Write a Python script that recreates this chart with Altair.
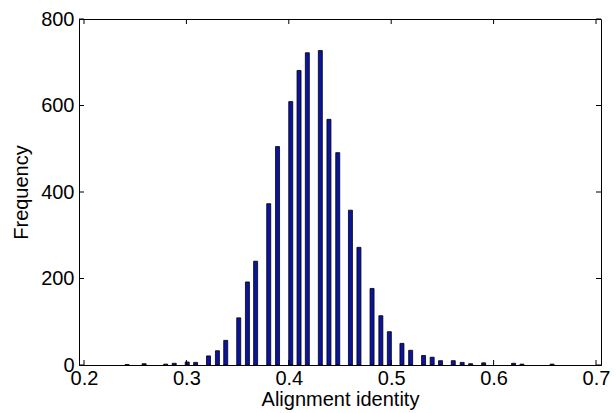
import altair as alt
import pandas as pd

# Histogram bar centers (alignment identity) and counts
bin_centers = [0.2421, 0.2587, 0.2798, 0.2881, 0.3008, 0.3090, 0.3216, 0.3303,
               0.3384, 0.3511, 0.3596, 0.3676, 0.3804, 0.3890, 0.4019, 0.4100,
               0.4181, 0.4308, 0.4392, 0.4478, 0.4602, 0.4685, 0.4813, 0.4899,
               0.4982, 0.5105, 0.5190, 0.5316, 0.5400, 0.5482, 0.5606, 0.5693,
               0.5776, 0.5903, 0.6195, 0.6277, 0.6571]
counts = [1, 3, 2, 4, 7, 6, 21, 33,
          57, 109, 192, 240, 373, 505, 609, 681,
          722, 727, 568, 491, 358, 272, 177, 114,
          77, 50, 34, 22, 18, 10, 10, 6,
          3, 5, 4, 2, 2]

x_ticks = [0.2, 0.3, 0.4, 0.5, 0.6, 0.7]
y_ticks = [0, 200, 400, 600, 800]

W, H = 522, 346
FONT = "Liberation Sans"

df = pd.DataFrame({"identity": bin_centers, "freq": counts})
xt = pd.DataFrame({"identity": x_ticks})
yt = pd.DataFrame({"freq": y_ticks})

xscale = alt.Scale(domain=[0.2, 0.7], nice=False, zero=False)
yscale = alt.Scale(domain=[0, 800], nice=False)

xaxis = alt.Axis(values=x_ticks, format=".1f", ticks=False, grid=False,
                 title="Alignment identity", labelPadding=3, titlePadding=1,
                 labelFlush=False)
yaxis = alt.Axis(values=y_ticks, format="d", ticks=False, grid=False,
                 title="Frequency", labelPadding=5, titlePadding=9)

bars = alt.Chart(df).mark_bar(size=4, color="#0a14a0", stroke="black", strokeWidth=0.8).encode(
    x=alt.X("identity:Q", scale=xscale, axis=xaxis),
    y=alt.Y("freq:Q", scale=yscale, axis=yaxis),
)

tick_color = "black"
xt_bottom = alt.Chart(xt).mark_rule(color=tick_color, strokeWidth=1).encode(
    x=alt.X("identity:Q", scale=xscale, axis=xaxis), y=alt.value(H), y2=alt.value(H - 5))
xt_top = alt.Chart(xt).mark_rule(color=tick_color, strokeWidth=1).encode(
    x=alt.X("identity:Q", scale=xscale, axis=xaxis), y=alt.value(0), y2=alt.value(5))
yt_left = alt.Chart(yt).mark_rule(color=tick_color, strokeWidth=1).encode(
    y=alt.Y("freq:Q", scale=yscale, axis=yaxis), x=alt.value(0), x2=alt.value(5))
yt_right = alt.Chart(yt).mark_rule(color=tick_color, strokeWidth=1).encode(
    y=alt.Y("freq:Q", scale=yscale, axis=yaxis), x=alt.value(W - 5), x2=alt.value(W))

chart = alt.layer(bars, xt_bottom, xt_top, yt_left, yt_right).properties(
    width=W, height=H,
    autosize=alt.AutoSizeParams(type="none"),
    padding={"left": 79, "top": 19, "right": 15, "bottom": 48},
    background="white",
).configure_view(stroke="black", strokeWidth=1).configure_axis(
    labelFont=FONT, labelFontSize=20, labelColor="black",
    titleFont=FONT, titleFontSize=20, titleFontWeight="normal", titleColor="black",
    domainColor="black", domainWidth=1,
)

chart.save("out.html", embed_options={"renderer": "svg", "actions": False})
